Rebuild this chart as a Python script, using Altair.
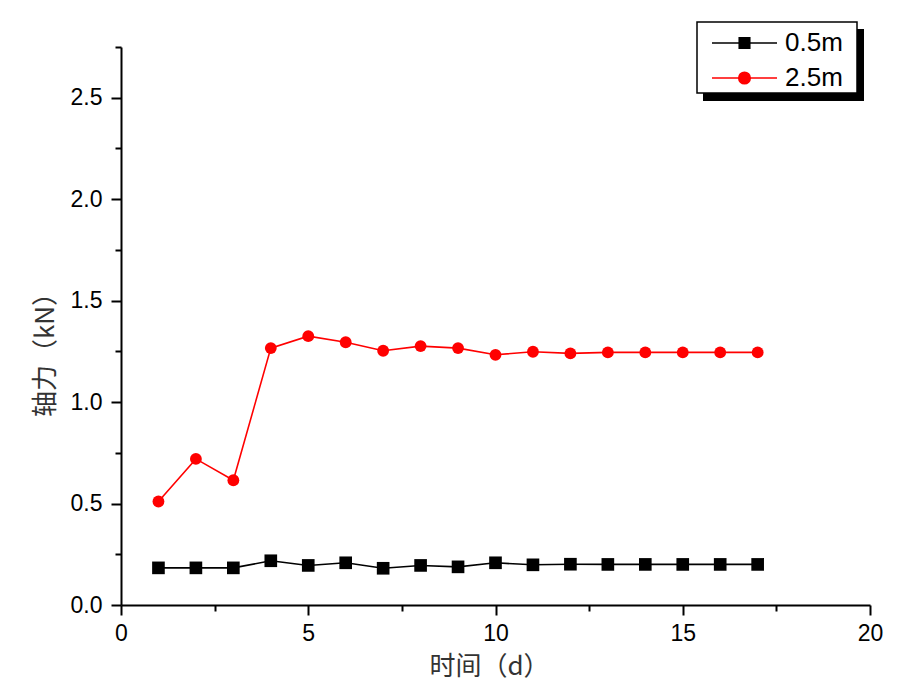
import altair as alt
import pandas as pd

days = list(range(1, 18))
s05 = [0.183, 0.183, 0.183, 0.218, 0.195, 0.208, 0.181, 0.195, 0.188,
       0.208, 0.198, 0.201, 0.200, 0.200, 0.200, 0.200, 0.200]
s25 = [0.510, 0.720, 0.615, 1.266, 1.325, 1.295, 1.253, 1.276, 1.266,
       1.233, 1.248, 1.240, 1.245, 1.245, 1.245, 1.245, 1.245]
series = ["0.5m", "2.5m"]
colors = ["black", "red"]
x_major = [0, 5, 10, 15, 20]
x_minor = [2.5, 7.5, 12.5, 17.5]
y_major = [0, 0.5, 1.0, 1.5, 2.0, 2.5]
y_minor = [0.25, 0.75, 1.25, 1.75, 2.25, 2.75]

rows = []
for d, a, b in zip(days, s05, s25):
    rows.append({"day": d, "force": a, "series": series[0]})
    rows.append({"day": d, "force": b, "series": series[1]})
df = pd.DataFrame(rows)

W, H = 749, 558

xs = alt.Scale(domain=[0, 20], nice=False)
ys = alt.Scale(domain=[0, 2.75], nice=False)

square_path = "M-1,0H12M4.45,-1.05H6.55V1.05H4.45Z"
circle_path = "M4.35,0A1.15,1.15 0 1,0 6.65,0A1.15,1.15 0 1,0 4.35,0ZM-1,0H12"

base = alt.Chart(df)
one = pd.DataFrame({"k": [0]})

shadow = alt.Chart(one).mark_rect(color="black").encode(
    x=alt.value(582), x2=alt.value(743), y=alt.value(-18), y2=alt.value(54)
)
box = alt.Chart(one).mark_rect(fill="white", stroke="black", strokeWidth=1.5).encode(
    x=alt.value(576), x2=alt.value(736), y=alt.value(-25), y2=alt.value(46)
)

leg_common = dict(title=None, orient="none", labelFont="Arial", labelFontSize=26,
                  labelColor="black", labelOffset=55, symbolSize=100, padding=0,
                  symbolStrokeWidth=1.6)

line_a = base.transform_filter(alt.datum.series == series[0]).mark_line(strokeWidth=1.6).encode(
    x=alt.X("day:Q", scale=xs,
            axis=alt.Axis(orient="bottom", values=x_minor, labels=False, domain=False,
                          tickSize=6, title=None, grid=False)),
    y=alt.Y("force:Q", scale=ys,
            axis=alt.Axis(orient="left", values=y_minor, labels=False, domain=False,
                          tickSize=6, title=None, grid=False)),
    stroke=alt.Stroke("series:N", scale=alt.Scale(domain=series, range=colors),
                      legend=alt.Legend(legendX=583, legendY=-17, values=[series[0]],
                                        symbolType=square_path, symbolFillColor="black",
                                        **leg_common)),
)

line_b = base.transform_filter(alt.datum.series == series[1]).transform_calculate(
    series2="datum.series").mark_line(strokeWidth=1.6).encode(
    x=alt.X("day:Q", scale=xs, axis=None),
    y=alt.Y("force:Q", scale=ys, axis=None),
    stroke=alt.Stroke("series2:N",
                      scale=alt.Scale(domain=series[::-1], range=colors[::-1]),
                      legend=alt.Legend(legendX=583, legendY=18, values=[series[1]],
                                        symbolType=circle_path, symbolFillColor="red",
                                        **leg_common)),
)

points = base.mark_point(filled=True, opacity=1).encode(
    x=alt.X("day:Q", scale=xs,
            axis=alt.Axis(orient="bottom", values=x_major, title="时间（d）",
                          tickSize=10, labelPadding=7, format="d", labelFlush=False,
                          titleFont="Noto Sans CJK SC", titleFontSize=26,
                          titleFontWeight="normal", titleColor="#333333",
                          titleX=368, titleY=61, titleBaseline="middle",
                          titleAlign="center")),
    y=alt.Y("force:Q", scale=ys,
            axis=alt.Axis(orient="left", values=y_major, title="轴力（kN）",
                          tickSize=10, labelPadding=9, format=".1f", labelFlush=False,
                          titleFont="Noto Sans CJK SC", titleFontSize=26,
                          titleFontWeight="normal", titleColor="#333333",
                          titleX=-76, titleY=301, titleAngle=-90,
                          titleBaseline="middle", titleAlign="center")),
    fill=alt.Fill("series:N", scale=alt.Scale(domain=series, range=colors), legend=None),
    shape=alt.Shape("series:N", scale=alt.Scale(domain=series, range=["square", "circle"]),
                    legend=None),
    size=alt.Size("series:N", scale=alt.Scale(domain=series, range=[160, 140]), legend=None),
)

chart = alt.layer(shadow, box, line_a, line_b, points).resolve_axis(
    x="independent", y="independent"
).resolve_scale(stroke="independent").resolve_legend(stroke="independent").properties(
    width=W, height=H,
    autosize=alt.AutoSizeParams(type="none"),
    padding={"left": 113, "top": 39, "right": 20, "bottom": 80},
).configure_view(stroke=None).configure_axis(
    domainColor="black", domainWidth=2, tickColor="black", tickWidth=2,
    labelFont="Arial", labelFontSize=23, labelColor="black", grid=False,
)

chart.save("out.html", embed_options={"renderer": "svg", "actions": False})
